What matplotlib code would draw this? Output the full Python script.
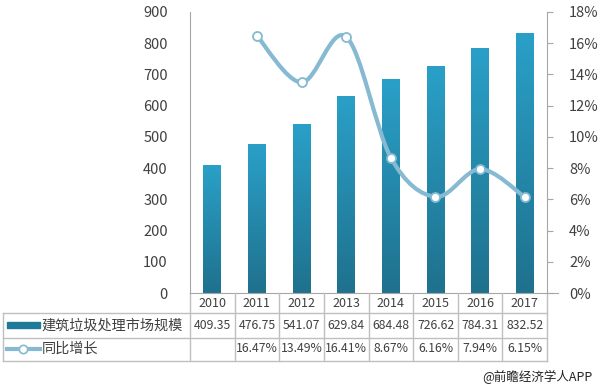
import numpy as np
import matplotlib
matplotlib.use("Agg")
from matplotlib import pyplot as plt
from matplotlib.path import Path
import matplotlib.patches as patches
from matplotlib.colors import LinearSegmentedColormap
from matplotlib.lines import Line2D

years = ["2010", "2011", "2012", "2013", "2014", "2015", "2016", "2017"]
market_size = [409.35, 476.75, 541.07, 629.84, 684.48, 726.62, 784.31, 832.52]
growth_years = ["2011", "2012", "2013", "2014", "2015", "2016", "2017"]
growth_pct = [16.47, 13.49, 16.41, 8.67, 6.16, 7.94, 6.15]

bar_name = "建筑垃圾处理市场规模"
line_name = "同比增长"
source_txt = "@前瞻经济学人APP"

FONT = ["Noto Sans CJK SC", "DejaVu Sans"]
plt.rcParams["font.family"] = FONT

TXT = "#404040"
GRID = "#bfbfbf"
AXC = "#a6a6a6"
LINE_C = "#86b9d2"
bar_cmap = LinearSegmentedColormap.from_list("bar", ["#1f718d", "#2aa0c8"])


def smooth_path(xs, ys):
    # excel-like smoothed line, bezier segments through the data points
    pts = np.column_stack([xs, ys]).astype(float)
    n = len(pts)
    verts = [pts[0]]
    codes = [Path.MOVETO]
    for i in range(n - 1):
        p0 = pts[i - 1] if i > 0 else pts[i]
        p1 = pts[i]
        p2 = pts[i + 1]
        p3 = pts[i + 2] if i + 2 < n else pts[i + 1]
        c1 = p1 + (p2 - p0) / 6.
        c2 = p2 - (p3 - p1) / 6.
        verts += [c1, c2, p2]
        codes += [Path.CURVE4] * 3
    return Path(verts, codes)


fig = plt.figure(figsize=(6, 3.88), dpi=100)
ax = fig.add_axes([0.3167, 0.2448, 0.5950, 0.7243])
x = np.arange(len(years))

bars = ax.bar(x, market_size, width=0.4, color="none", zorder=2)
grad = np.linspace(0, 1, 256).reshape(-1, 1)
for b in bars:
    ax.imshow(grad, cmap=bar_cmap, origin="lower", aspect="auto",
              extent=[b.get_x(), b.get_x() + b.get_width(), 0, b.get_height()],
              zorder=2)
ax.set_xlim(-0.5, len(years) - 0.5)
ax.set_ylim(0, 900)
ax.set_yticks(np.arange(0, 901, 100))
ax.tick_params(axis="y", length=0, pad=16, labelsize=10.5, labelcolor=TXT)
ax.set_xticks([])
for s in ["top", "right", "bottom"]:
    ax.spines[s].set_visible(False)
ax.spines["left"].set_color(AXC)
ax.spines["left"].set_linewidth(0.8)

ax2 = ax.twinx()
ax2.set_ylim(0, 18)
ax2.set_yticks(np.arange(0, 19, 2))
ax2.set_yticklabels([f"{v}%" for v in range(0, 19, 2)])
ax2.tick_params(axis="y", direction="out", length=4, color=AXC, pad=12,
                labelsize=10.5, labelcolor=TXT)
for s in ["top", "left", "bottom"]:
    ax2.spines[s].set_visible(False)
ax2.spines["right"].set_color(AXC)
ax2.spines["right"].set_linewidth(0.8)

gx = [years.index(y) for y in growth_years]
path = smooth_path(gx, growth_pct)
ax2.add_patch(patches.PathPatch(path, fill=False, ec=LINE_C, lw=3,
                                capstyle="round", zorder=3))
ax2.plot(gx, growth_pct, ls="none", marker="o", ms=6.5, mfc="white",
         mec=LINE_C, mew=1.3, zorder=4)

# table under the chart
tr = ax.get_xaxis_transform()
row_y = [0, -0.0712, -0.160, -0.242]
txt_y = [-0.0356, -0.114, -0.199]
left = -0.524

ax.plot([-0.5, 7.75], [0, 0], transform=tr, color=AXC, lw=0.8, clip_on=False)
for yy in row_y[1:]:
    ax.plot([left, 1.0], [yy, yy], transform=ax.transAxes, color=GRID,
            lw=1, clip_on=False)
ax.plot([left, left], [row_y[1], row_y[3]], transform=ax.transAxes,
        color=GRID, lw=1, clip_on=False)
for i in range(len(years) + 1):
    ax.plot([i - 0.5, i - 0.5], [0, row_y[3]], transform=tr, color=GRID,
            lw=1, clip_on=False)

for i, y in enumerate(years):
    ax.text(i, txt_y[0], y, transform=tr, ha="center", va="center",
            fontsize=9, color=TXT)
    ax.text(i, txt_y[1], f"{market_size[i]:.2f}", transform=tr,
            ha="center", va="center", fontsize=8.8, color=TXT)
for xi, v in zip(gx, growth_pct):
    ax.text(xi, txt_y[2], f"{v:.2f}%", transform=tr, ha="center",
            va="center", fontsize=8.8, color=TXT)

# legend keys in the row headers
ax.add_patch(patches.Rectangle((-0.513, txt_y[1] - 0.011), 0.093, 0.022,
                               transform=ax.transAxes, color="#1f7a98",
                               clip_on=False))
ax.add_line(Line2D([-0.513, -0.420], [txt_y[2], txt_y[2]],
                   transform=ax.transAxes, color=LINE_C, lw=3,
                   marker="", clip_on=False))
ax.add_line(Line2D([-0.4665], [txt_y[2]], transform=ax.transAxes,
                   ls="none", marker="o", ms=6, mfc="white", mec=LINE_C,
                   mew=1.2, clip_on=False))
ax.text(-0.415, txt_y[1], bar_name, transform=ax.transAxes, ha="left",
        va="center", fontsize=10.2, color=TXT)
ax.text(-0.415, txt_y[2], line_name, transform=ax.transAxes, ha="left",
        va="center", fontsize=10.2, color=TXT)

fig.text(0.988, 0.028, source_txt, ha="right", va="center", fontsize=9,
         color="#222222")

fig.savefig("out.png", dpi=100)
plt.close()
